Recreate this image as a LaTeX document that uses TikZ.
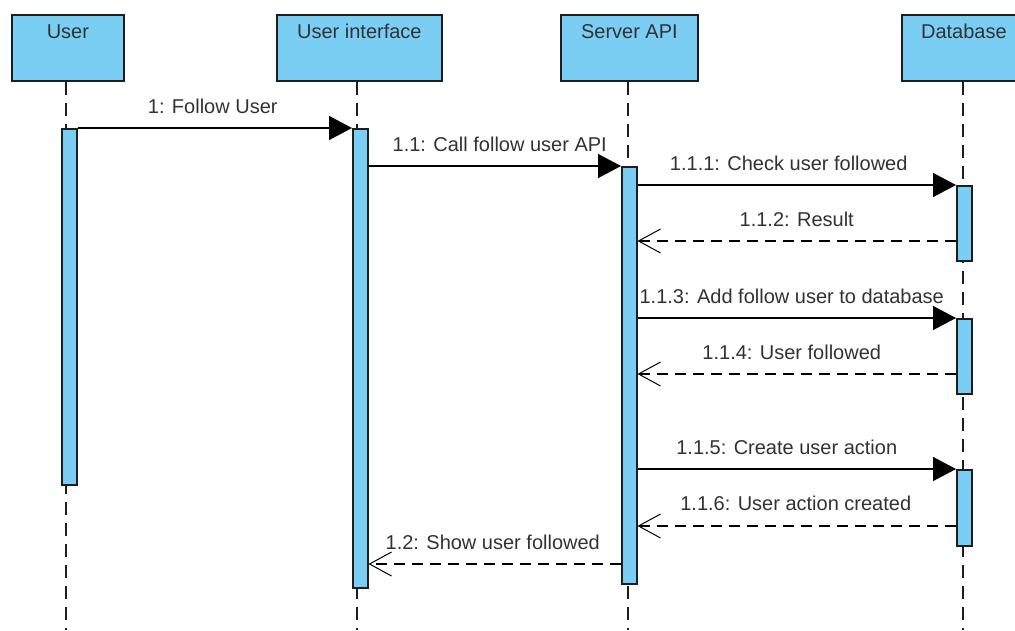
\documentclass[tikz,border=0pt]{standalone}
\usepackage{fontspec}
\setmainfont{Liberation Sans}
\usetikzlibrary{arrows.meta}
\definecolor{lanefill}{RGB}{122,206,244}
\definecolor{edge}{RGB}{30,30,30}
\definecolor{ink}{RGB}{50,50,50}
\tikzset{
  actor/.style={draw=edge, line width=1.8pt, fill=lanefill, minimum height=66pt,
    inner sep=0pt, anchor=north west},
  actorname/.style={anchor=base, text=ink, font=\fontsize{20}{22}\selectfont, inner sep=0pt},
  bar/.style={draw=edge, line width=1.5pt, fill=lanefill, minimum width=15pt,
    inner sep=0pt, anchor=north west},
  lifeline/.style={draw=edge, line width=1.5pt, dash pattern=on 13pt off 8pt},
  call/.style={draw=black, line width=1.5pt,
    -{Triangle[length=23pt,width=24pt]}},
  reply/.style={draw=black, line width=1.5pt, dash pattern=on 11pt off 7pt,
    -{Straight Barb[length=22pt,width=24pt,line width=1pt]}},
  msglabel/.style={anchor=base, text=ink, font=\fontsize{20}{22}\selectfont, inner sep=0pt},
}
\begin{document}
\begin{tikzpicture}[x=1pt,y=-1pt]
\useasboundingbox[fill=white] (0,0) rectangle (1015,630);

% participants
\node[actor, minimum width=112pt] (user) at (11,14) {};
\node[actor, minimum width=165pt] (ui)   at (276,14) {};
\node[actor, minimum width=137pt] (srv)  at (560,14) {};
\node[actor, minimum width=124pt] (db)   at (901,14) {};
\node[actorname] (userName) at ([yshift=-24.5pt]user.north) {User};
\node[actorname] (uiName)   at ([yshift=-24.5pt]ui.north)   {User interface};
\node[actorname] (srvName)  at ([yshift=-24.5pt]srv.north)  {Server API};
\node[actorname] (dbName)   at ([yshift=-24.5pt]db.north)   {Database};

% lifelines
\coordinate (userEnd) at (66,630);
\coordinate (uiEnd)   at (357,630);
\coordinate (srvEnd)  at (628,630);
\coordinate (dbEnd)   at (963,630);
\draw[lifeline] (user.south -| userEnd) -- (userEnd);
\draw[lifeline] (ui.south -| uiEnd) -- (uiEnd);
\draw[lifeline] (srv.south -| srvEnd) -- (srvEnd);
\draw[lifeline] (db.south -| dbEnd) -- (dbEnd);

% activation bars
\node[bar, minimum height=356pt] (userBar) at (61,128) {};
\node[bar, minimum height=459pt] (uiBar)   at (352,128) {};
\node[bar, minimum height=417pt] (srvBar)  at (621,166) {};
\node[bar, minimum height=75pt]  (dbBarA)  at (956,185) {};
\node[bar, minimum height=75pt]  (dbBarB)  at (956,318) {};
\node[bar, minimum height=76pt]  (dbBarC)  at (956,469) {};

% messages
\draw[call] (userBar.north east) -- (uiBar.north west)
  node[msglabel, midway, yshift=15pt, xshift=-2pt] (m1) {1: Follow User};
\draw[call] (uiBar.east |- srvBar.north) -- (srvBar.north west)
  node[msglabel, midway, yshift=15pt, xshift=5pt] (m11) {1.1: Call follow user API};
\draw[call] (srvBar.east |- dbBarA.north) -- (dbBarA.north west)
  node[msglabel, midway, yshift=15pt, xshift=-8pt] (m111) {1.1.1: Check user followed};
\draw[reply] (dbBarA.west |- 0,241) -- (srvBar.east |- 0,241)
  node[msglabel, midway, yshift=15pt] (m112) {1.1.2: Result};
\draw[call] (srvBar.east |- dbBarB.north) -- (dbBarB.north west)
  node[msglabel, midway, yshift=15pt, xshift=-5pt] (m113) {1.1.3: Add follow user to database};
\draw[reply] (dbBarB.west |- 0,374) -- (srvBar.east |- 0,374)
  node[msglabel, midway, yshift=15pt, xshift=-5pt] (m114) {1.1.4: User followed};
\draw[call] (srvBar.east |- dbBarC.north) -- (dbBarC.north west)
  node[msglabel, midway, yshift=15pt, xshift=-10pt] (m115) {1.1.5: Create user action};
\draw[reply] (dbBarC.west |- 0,526) -- (srvBar.east |- 0,526)
  node[msglabel, midway, yshift=16pt, xshift=-1pt] (m116) {1.1.6: User action created};
\draw[reply] (srvBar.west |- 0,564) -- (uiBar.east |- 0,564)
  node[msglabel, midway, yshift=15pt, xshift=-2pt] (m12) {1.2: Show user followed};
\end{tikzpicture}
\end{document}
